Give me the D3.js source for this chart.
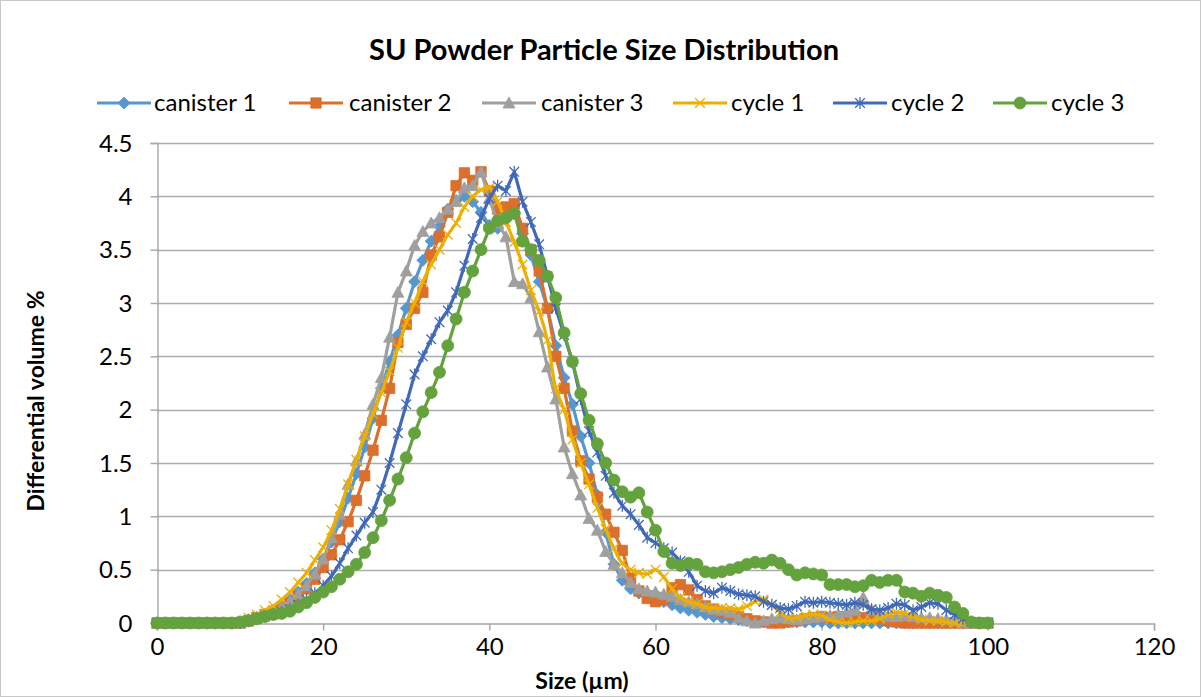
<!DOCTYPE html>
<html><head><meta charset="utf-8">
<script src="https://cdn.jsdelivr.net/npm/d3@7/dist/d3.min.js"></script>
<style>
body{margin:0;background:#fff}
svg{display:block}
text{font-family:Lato,"Noto Sans",sans-serif;fill:#000}
</style>
</head><body>
<svg id="chart" width="1201" height="697"></svg>
<script>
// ---- data ----
const sizes = [0,1,2,3,4,5,6,7,8,9,10,11,12,13,14,15,16,17,18,19,20,21,22,23,24,25,26,27,28,29,30,31,32,33,34,35,36,37,38,39,40,41,42,43,44,45,46,47,48,49,50,51,52,53,54,55,56,57,58,59,60,61,62,63,64,65,66,67,68,69,70,71,72,73,74,75,76,77,78,79,80,81,82,83,84,85,86,87,88,89,90,91,92,93,94,95,96,97,98,99,100];

const canister1 = [0,0,0,0,0,0,0,0,0,0,0,
 0.03,0.05,0.08,0.12,0.16,0.22,0.29,0.37,0.47,0.6,
 0.76,0.95,1.17,1.4,1.65,1.92,2.2,2.45,2.7,2.95,
 3.2,3.4,3.58,3.72,3.88,3.96,4.0,3.95,3.85,3.73,
 3.7,3.78,3.85,3.65,3.45,3.2,2.95,2.6,2.3,2.05,
 1.75,1.5,1.2,0.85,0.55,0.4,0.32,0.28,0.25,0.22,
 0.2,0.17,0.14,0.12,0.1,0.08,0.06,0.05,0.04,0.03,
 0.02,0.01,0.01,0.01,0.01,0.01,0.01,0.01,0.01,0.01,
 0,0,0,0,0,0,0,0,0,0,0,0,0,0,0,0,0,0,0,0];

const canister2 = [0,0,0,0,0,0,0,0,0,0,0,
 0.02,0.05,0.08,0.11,0.14,0.19,0.25,0.32,0.41,0.52,
 0.64,0.78,0.95,1.15,1.38,1.62,1.9,2.2,2.63,2.8,
 2.95,3.1,3.45,3.62,3.85,4.1,4.22,4.15,4.23,4.05,
 3.88,3.9,3.93,3.7,3.5,3.3,2.95,2.5,2.2,1.8,
 1.52,1.35,1.18,1.02,0.85,0.68,0.42,0.3,0.23,0.2,
 0.22,0.33,0.36,0.31,0.22,0.16,0.13,0.1,0.08,0.06,
 0.04,0.02,0.01,0,0,0.01,0.02,0.04,0.05,0.06,
 0.05,0.06,0.05,0.06,0.05,0.06,0.04,0.02,0.01,0,
 0,0,0,0,0,0,0,0,0,0];

const canister3 = [0,0,0,0,0,0,0,0,0,0,0,
 0.03,0.05,0.08,0.11,0.15,0.2,0.27,0.35,0.46,0.6,
 0.8,1.02,1.3,1.52,1.77,2.05,2.3,2.68,3.1,3.3,
 3.54,3.67,3.75,3.8,3.88,3.95,4.08,4.1,4.23,3.98,
 3.75,3.62,3.2,3.18,3.05,2.73,2.4,2.1,1.65,1.4,
 1.2,0.98,0.87,0.67,0.55,0.47,0.38,0.32,0.3,0.29,
 0.27,0.25,0.22,0.2,0.18,0.15,0.13,0.12,0.1,0.05,
 0.02,0,0.02,0.04,0.05,0.04,0.03,0.04,0.05,0.06,
 0.07,0.08,0.1,0.12,0.24,0.12,0.08,0.06,0.06,0.07,
 0.06,0.05,0.05,0.04,0.03,0.02,0.01,0,0,0];

const cycle1 = [0,0,0,0,0,0,0,0,0,0,0,
 0.05,0.08,0.12,0.16,0.22,0.29,0.38,0.47,0.59,0.71,
 0.87,1.07,1.3,1.53,1.75,1.96,2.16,2.36,2.58,2.82,
 3.0,3.2,3.36,3.5,3.64,3.75,3.9,4.0,4.06,4.08,
 3.95,3.76,3.57,3.36,3.12,2.92,2.65,2.2,2.0,1.72,
 1.5,1.3,1.08,0.88,0.7,0.56,0.5,0.47,0.46,0.5,
 0.43,0.32,0.24,0.2,0.18,0.15,0.14,0.14,0.14,0.13,
 0.16,0.2,0.22,0.17,0.1,0.05,0.05,0.07,0.08,0.07,
 0.03,0.01,0,0.01,0.02,0.02,0.04,0.08,0.1,0.09,
 0.06,0.03,0.02,0.02,0.01,0,0,0,0,0];

const cycle2 = [0,0,0,0,0,0,0,0,0,0,0,
 0.02,0.04,0.06,0.08,0.1,0.13,0.17,0.22,0.28,0.35,
 0.44,0.56,0.7,0.82,0.94,1.04,1.25,1.5,1.78,2.05,
 2.33,2.5,2.66,2.82,2.93,3.1,3.35,3.6,3.8,3.98,
 4.1,4.05,4.23,3.95,3.76,3.55,3.25,2.95,2.7,2.45,
 2.1,1.8,1.6,1.38,1.22,1.1,1.02,0.92,0.8,0.75,
 0.7,0.66,0.58,0.48,0.35,0.3,0.28,0.33,0.3,0.27,
 0.26,0.25,0.2,0.17,0.14,0.13,0.16,0.2,0.19,0.2,
 0.19,0.18,0.17,0.19,0.17,0.13,0.12,0.14,0.18,0.17,
 0.12,0.15,0.19,0.18,0.12,0.08,0.04,0.01,0,0];

const cycle3 = [0,0,0,0,0,0,0,0,0,0,0.01,
 0.02,0.04,0.06,0.08,0.09,0.11,0.15,0.19,0.24,0.29,
 0.34,0.41,0.48,0.55,0.66,0.8,0.96,1.15,1.35,1.55,
 1.78,1.98,2.16,2.35,2.6,2.85,3.1,3.3,3.5,3.7,
 3.77,3.8,3.84,3.58,3.5,3.4,3.25,3.05,2.72,2.45,
 2.15,1.9,1.68,1.5,1.34,1.23,1.18,1.22,1.04,0.87,
 0.67,0.56,0.54,0.56,0.55,0.48,0.47,0.48,0.5,0.52,
 0.55,0.57,0.56,0.59,0.56,0.5,0.45,0.47,0.46,0.45,
 0.36,0.36,0.36,0.34,0.35,0.4,0.38,0.4,0.4,0.29,
 0.28,0.25,0.28,0.26,0.24,0.15,0.09,0.01,0,0];

const seriesNames = ["canister 1","canister 2","canister 3","cycle 1","cycle 2","cycle 3"];
const seriesValues = [canister1,canister2,canister3,cycle1,cycle2,cycle3];
const xTicks = [0,20,40,60,80,100,120];
const yTicks = [0,0.5,1,1.5,2,2.5,3,3.5,4,4.5];
const titleText = "SU Powder Particle Size Distribution";
const xTitle = "Size (\u00b5m)";
const yTitle = "Differential volume %";

// ---- styles ----
const colors = ["#5797D0","#DB6F2C","#9F9F9F","#EDAF00","#4069B8","#64A23E"];
const markers = ["diamond","square","triangle","x","asterisk","circle"];
const smooth = [false,false,false,true,false,false];

const svg = d3.select("#chart");
const W = 1201, H = 697;
const m = {left:157, right:1154, top:143, bottom:623};

svg.append("rect").attr("x",0.5).attr("y",0.5).attr("width",W-1).attr("height",H-1)
  .attr("fill","#fff").attr("stroke","#c8c8c8").attr("stroke-width",1);

const x = d3.scaleLinear().domain([0,120]).range([m.left,m.right]);
const y = d3.scaleLinear().domain([0,4.5]).range([m.bottom,m.top]);

// gridlines
svg.append("g").selectAll("line").data(yTicks.filter(d=>d>0)).join("line")
  .attr("x1",m.left).attr("x2",m.right)
  .attr("y1",d=>Math.round(y(d))+0.5).attr("y2",d=>Math.round(y(d))+0.5)
  .attr("stroke","#acacac").attr("stroke-width",1.4);

// axes
const gx = svg.append("g").attr("transform",`translate(0,${Math.round(y(0))+0.5})`)
  .call(d3.axisBottom(x).tickValues(xTicks).tickSize(7).tickPadding(7).tickFormat(d3.format("d")));
const gy = svg.append("g").attr("transform",`translate(${Math.round(x(0))+0.5},0)`)
  .call(d3.axisLeft(y).tickValues(yTicks).tickSize(7).tickPadding(18).tickFormat(d=>String(d)));
[gx,gy].forEach(g=>{
  g.selectAll(".domain").attr("stroke","#a6a6a6").attr("stroke-width",1.4);
  g.selectAll(".tick line").attr("stroke","#a6a6a6").attr("stroke-width",1.4);
  g.selectAll(".tick text").attr("font-family","Lato,'Noto Sans',sans-serif").attr("font-size",24).attr("fill","#000");
});
gx.selectAll(".tick text").attr("dy","0.71em");
gy.selectAll(".tick text").attr("dy","0.34em");

// markers
function markerPath(type){
  switch(type){
    case "diamond": return "M0,-6L6,0L0,6L-6,0Z";
    case "square": return "M-5.2,-5.2H5.2V5.2H-5.2Z";
    case "triangle": return "M0,-6L6,5L-6,5Z";
    case "x": return "M-4.8,-4.8L4.8,4.8M4.8,-4.8L-4.8,4.8";
    case "asterisk": return "M-4.8,-4.8L4.8,4.8M4.8,-4.8L-4.8,4.8M0,-6V6";
    case "circle": return "M6,0A6,6 0 1 1 -6,0A6,6 0 1 1 6,0Z";
  }
}
function drawMarker(g,type,color){
  const stroked = (type==="x"||type==="asterisk");
  g.append("path").attr("d",markerPath(type))
    .attr("fill",stroked?"none":color)
    .attr("stroke",color).attr("stroke-width",stroked?1.3:0.8);
}

const plot = svg.append("g");
seriesValues.forEach((vals,i)=>{
  const pts = sizes.map((s,k)=>[s,vals[k]]);
  const line = d3.line().x(d=>x(d[0])).y(d=>y(d[1]))
    .curve(smooth[i]? d3.curveCatmullRom.alpha(0.5) : d3.curveLinear);
  const g = plot.append("g");
  g.append("path").datum(pts).attr("d",line).attr("fill","none")
    .attr("stroke",colors[i]).attr("stroke-width",3.2).attr("stroke-linejoin","round").attr("stroke-linecap","round");
  pts.forEach(p=>{
    const mg = g.append("g").attr("transform",`translate(${x(p[0])},${y(p[1])})`);
    drawMarker(mg,markers[i],colors[i]);
  });
});

// title
svg.append("text").attr("x",604).attr("y",60).attr("text-anchor","middle")
  .attr("font-size",29).attr("font-weight","bold").text(titleText);

// legend
const legendItems = [
  {lx:97, tx:154},{lx:289, tx:349},{lx:482, tx:541},
  {lx:673, tx:731},{lx:833, tx:891},{lx:993, tx:1051}
];
const ly = 103;
seriesNames.forEach((name,i)=>{
  const it = legendItems[i];
  const g = svg.append("g");
  g.append("line").attr("x1",it.lx).attr("x2",it.lx+54).attr("y1",ly).attr("y2",ly)
    .attr("stroke",colors[i]).attr("stroke-width",3.2);
  const mg = g.append("g").attr("transform",`translate(${it.lx+27},${ly})`);
  drawMarker(mg,markers[i],colors[i]);
  g.append("text").attr("x",it.tx).attr("y",ly).attr("dy","0.35em").attr("font-size",24).text(name);
});

// axis titles
svg.append("text").attr("x",582).attr("y",689).attr("text-anchor","middle")
  .attr("font-size",23).attr("font-weight","bold").text(xTitle);
svg.append("text").attr("transform","translate(44,401) rotate(-90)").attr("text-anchor","middle")
  .attr("font-size",23).attr("font-weight","bold").text(yTitle);
</script>
</body></html>
